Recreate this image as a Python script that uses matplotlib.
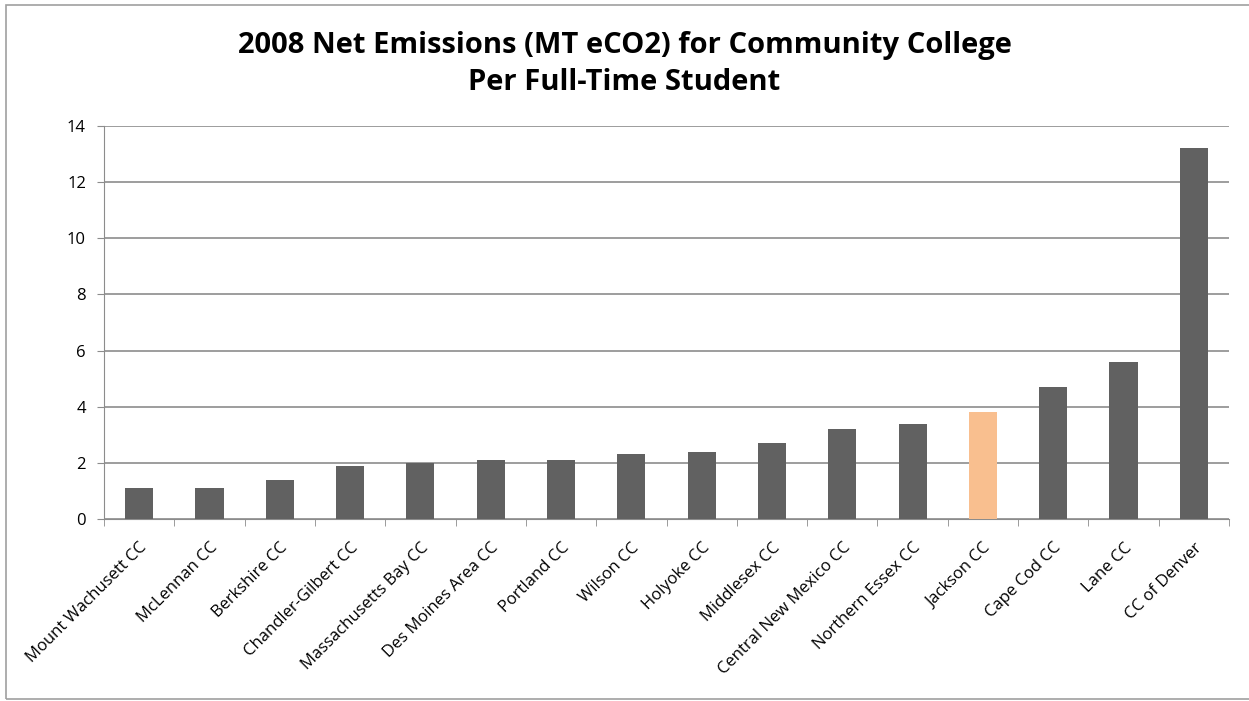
import matplotlib.pyplot as plt
from matplotlib.patches import Rectangle

# colleges sorted by emissions per full-time student
colleges = ["Mount Wachusett CC", "McLennan CC", "Berkshire CC", "Chandler-Gilbert CC",
            "Massachusetts Bay CC", "Des Moines Area CC", "Portland CC", "Wilson CC",
            "Holyoke CC", "Middlesex CC", "Central New Mexico CC", "Northern Essex CC",
            "Jackson CC", "Cape Cod CC", "Lane CC", "CC of Denver"]
emissions = [1.1, 1.1, 1.4, 1.9, 2.0, 2.1, 2.1, 2.3, 2.4, 2.7, 3.2, 3.4, 3.8, 4.7, 5.6, 13.2]
highlight = "Jackson CC"
yticks = [0, 2, 4, 6, 8, 10, 12, 14]

plt.rcParams['font.family'] = ['Open Sans', 'DejaVu Sans']

fig = plt.figure(figsize=(12.49, 7.01), dpi=100)
ax = fig.add_axes([104/1249, 1-519/701, (1229-104)/1249, (519-126)/701])

colors = ["#F9BF8F" if c == highlight else "#616161" for c in colleges]
x = list(range(len(colleges)))
ax.bar(x, emissions, width=0.4, color=colors, zorder=3)

ax.set_ylim(0, 14)
ax.set_xlim(-0.5, len(colleges) - 0.5)
ax.set_yticks(yticks)
ax.set_yticklabels([str(v) for v in yticks], fontsize=12)
ax.yaxis.grid(True, color="#8c8c8c", linewidth=1.2, zorder=0)

# category labels at the centers, tick marks between categories
ax.set_xticks(x)
ax.set_xticklabels(colleges, rotation=45, ha="right", rotation_mode="anchor", fontsize=12)
ax.tick_params(axis="x", which="major", length=0, pad=15)
ax.set_xticks([i - 0.5 for i in range(len(colleges) + 1)], minor=True)
ax.tick_params(axis="x", which="minor", length=5, color="#8c8c8c", direction="out")
ax.tick_params(axis="y", length=5, color="#8c8c8c", pad=8)

for s in ["top", "right"]:
    ax.spines[s].set_visible(False)
ax.spines["left"].set_color("#8c8c8c")
ax.spines["bottom"].set_color("#8c8c8c")

fig.text(0.5, 1-64/701, "2008 Net Emissions (MT eCO2) for Community College\nPer Full-Time Student",
         ha="center", va="center", fontsize=21, fontweight="bold", linespacing=1.35)

# chart border
fig.patches.append(Rectangle((6/1249, 2/701), 1.1, 1-7/701, transform=fig.transFigure,
                             fill=False, edgecolor="#a0a0a0", linewidth=1.2))

fig.savefig("out.png", dpi=100)
